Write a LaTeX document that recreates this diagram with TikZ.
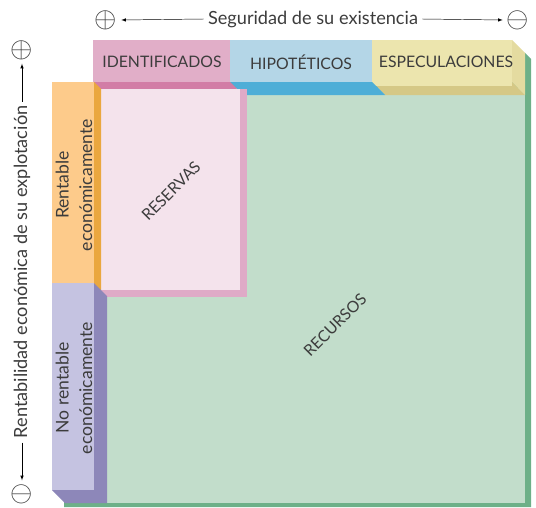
\documentclass[tikz,border=0pt]{standalone}
\usepackage{fontspec}
\setmainfont{Lato}
\usepackage{xcolor}
\usepackage{graphicx}
\usepackage{amsmath}
\usepackage{amssymb}

\definecolor{txtgray}{HTML}{3C3C3C}
\definecolor{greenlight}{HTML}{C2DDCB}
\definecolor{greendark}{HTML}{6DB088}
\definecolor{pinkhead}{HTML}{E1AEC8}
\definecolor{pinkdark}{HTML}{D27DA6}
\definecolor{bluehead}{HTML}{B4D6E7}
\definecolor{bluedark}{HTML}{4EAED7}
\definecolor{yellowhead}{HTML}{ECE5AE}
\definecolor{yellowside}{HTML}{E4DBA0}
\definecolor{yellowdark}{HTML}{D5C886}
\definecolor{reslight}{HTML}{F4E3EC}
\definecolor{resedge}{HTML}{DFAAC7}
\definecolor{orangelight}{HTML}{FDCB8B}
\definecolor{orangedark}{HTML}{EAA73F}
\definecolor{lavlight}{HTML}{C5C3E1}
\definecolor{lavdark}{HTML}{8D87B9}

\newcommand{\bigplus}{\scalebox{1.7}{$\oplus$}}
\newcommand{\bigminus}{\scalebox{1.7}{$\ominus$}}

\begin{document}
\begin{tikzpicture}[x=0.03cm,y=-0.03cm,font=\fontsize{13.5}{18}\selectfont,text=txtgray]
            \useasboundingbox (0,0) rectangle (536,507);

            \fill [greendark] (100,53) -- (525,53) -- (531,59) -- (531,507) -- (64,507) -- (64,470) -- (100,470) -- cycle;
            \fill [greenlight] (100,88) rectangle (525,503);

            \fill [yellowdark] (372,82) -- (512,82) -- (525,95) -- (385,95) -- cycle;
            \fill [yellowside] (512,40) -- (525,53) -- (525,95) -- (512,82) -- cycle;
            \fill [yellowhead] (372,40) rectangle (512,86);
            \fill [bluedark] (230,82) -- (372,82) -- (385,95) -- (243,95) -- cycle;
            \fill [bluehead] (230,40) rectangle (372,82);
            \fill [pinkdark] (93,82) -- (230,82) -- (237,89) -- (100,89) -- cycle;
            \fill [pinkhead] (93,40) rectangle (230,82);

            \fill [resedge] (100,89) rectangle (247,297);
            \fill [reslight] (100,89) rectangle (240,290);

            \fill [orangedark] (94,82) -- (101,89) -- (101,290) -- (94,290) -- cycle;
            \fill [orangelight] (52,82) rectangle (94,283);
            \fill [lavdark] (94,283) -- (107,296) -- (107,503) -- (65,503) -- (52,490) -- (94,490) -- cycle;
            \fill [lavlight] (52,283) rectangle (94,490);

            \node (ident) at (162,62) {IDENTIFICADOS};
            \node (hipot) at (301,62) {HIPOTÉTICOS};
            \node (espec) at (446,62) {ESPECULACIONES};

            \node [rotate=90,align=center,font=\fontsize{15}{20}\selectfont] (rentable) at (74,185) {Rentable\\económicamente};
            \node [rotate=90,align=center,font=\fontsize{15}{20}\selectfont] (norentable) at (74,388) {No rentable\\económicamente};

            \node [rotate=45] (reservas) at (171,191) {RESERVAS};
            \node [rotate=45] (recursos) at (335,325) {RECURSOS};

            \node (plush) at (106,20) {\bigplus};
            \node [font=\fontsize{15.5}{18}\selectfont] (segur) at (313,19) {Seguridad de su existencia};
            \node (minush) at (518,20) {\bigminus};
            \draw [-latex] (segur.west) -- (plush.east);
            \draw [-latex] (segur.east) -- (minush.west);

            \node (plusv) at (22,50) {\bigplus};
            \node [rotate=90,font=\fontsize{15.5}{18}\selectfont] (rentab) at (22,272) {Rentabilidad económica de su explotación};
            \node (minusv) at (22,494) {\bigminus};
            \draw [-latex] (rentab.east) -- (plusv.south);
            \draw [-latex] (rentab.west) -- (minusv.north);
        \end{tikzpicture}
\end{document}
